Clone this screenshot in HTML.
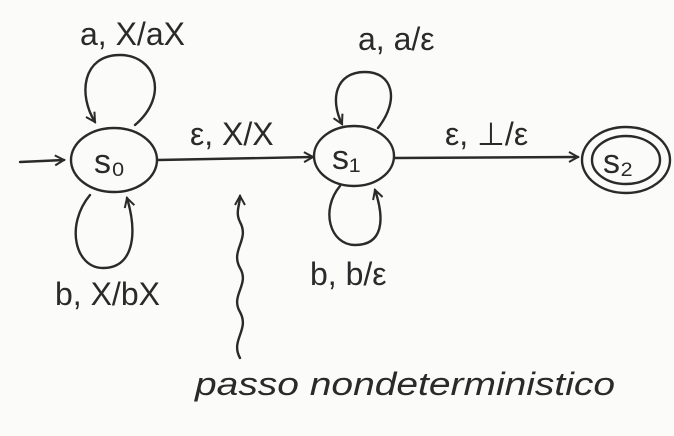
<!DOCTYPE html>
<html><head><meta charset="utf-8"><style>
html,body{margin:0;padding:0;background:#fbfbfa;}
svg{display:block}
text{font-family:"Liberation Sans",sans-serif;fill:#2a2a2a;}
</style></head><body>
<svg width="674" height="436" viewBox="0 0 674 436">
<defs><marker id="ah" markerWidth="12" markerHeight="12" refX="10" refY="6" orient="auto" markerUnits="userSpaceOnUse"><path d="M1,1 L10,6 L1,11" fill="none" stroke="#2a2a2a" stroke-width="2"/></marker></defs>
<g fill="none" stroke="#2a2a2a" stroke-width="2.4" stroke-linecap="round">
<path d="M20,162 L64,160" marker-end="url(#ah)"/>
<ellipse cx="114" cy="160" rx="43" ry="32"/>
<ellipse cx="354" cy="156" rx="40" ry="30"/>
<ellipse cx="626" cy="160" rx="44" ry="33"/>
<ellipse cx="626" cy="160" rx="34" ry="24"/>
<path d="M158,160 L313,157" marker-end="url(#ah)"/>
<path d="M395,158 L578,157" marker-end="url(#ah)"/>
<path d="M135,125 C170,95 155,55 120,55 C82,55 78,95 95,122" marker-end="url(#ah)"/>
<path d="M90,195 C65,225 75,268 103,268 C133,268 138,235 127,198" marker-end="url(#ah)"/>
<path d="M378,128 C400,100 393,72 365,72 C335,72 330,100 342,124" marker-end="url(#ah)"/>
<path d="M340,186 C320,210 330,245 355,245 C383,245 385,220 375,190" marker-end="url(#ah)"/>
<path d="M240,358 C230,340 250,330 240,312 C230,295 250,285 240,268 C230,250 250,240 240,222 C235,212 240,205 240,196" marker-end="url(#ah)"/>
</g>
<text x="94" y="173" font-size="34">s₀</text>
<text x="332" y="169" font-size="34">s₁</text>
<text x="603" y="173" font-size="34">s₂</text>
<text x="80" y="45" font-size="32">a, X/aX</text>
<text x="55" y="305" font-size="32">b, X/bX</text>
<text x="190" y="145" font-size="32">ε, X/X</text>
<text x="358" y="50" font-size="32">a, a/ε</text>
<text x="310" y="285" font-size="32">b, b/ε</text>
<text x="445" y="145" font-size="32">ε, ⊥/ε</text>
<text x="195" y="395" font-size="32" font-style="italic" textLength="420" lengthAdjust="spacingAndGlyphs">passo nondeterministico</text>
</svg>
</body></html>
